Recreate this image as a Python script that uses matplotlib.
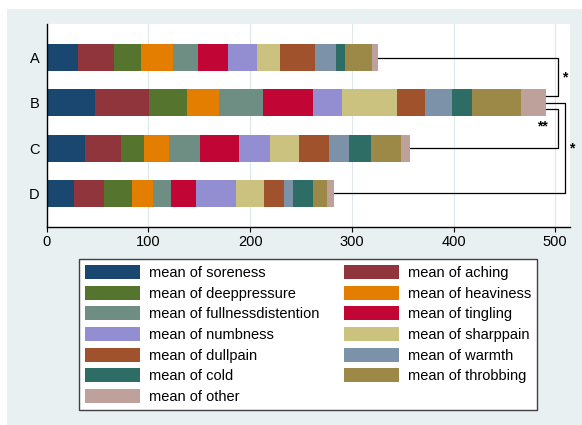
import numpy as np
import matplotlib.pyplot as plt
from matplotlib.patches import Rectangle

plt.rcParams['font.family'] = ['Liberation Sans', 'DejaVu Sans']

groups = ['A', 'B', 'C', 'D']
symptoms = ['soreness', 'aching', 'deeppressure', 'heaviness',
            'fullnessdistention', 'tingling', 'numbness', 'sharppain',
            'dullpain', 'warmth', 'cold', 'throbbing', 'other']

# mean of each symptom per group
means_A = [30.5, 35.7, 26.2, 32.1, 24.0, 29.5, 28.5, 22.6, 35.0, 20.1, 9.1, 26.3, 5.9]
means_B = [47.2, 53.4, 37.1, 32.0, 43.3, 48.6, 28.8, 53.7, 27.9, 26.5, 19.7, 48.2, 24.3]
means_C = [37.7, 35.1, 23.2, 24.3, 30.7, 38.1, 30.5, 28.8, 29.5, 19.6, 21.4, 29.5, 8.5]
means_D = [26.5, 30.1, 27.6, 20.3, 17.7, 24.3, 39.3, 28.2, 19.3, 9.2, 19.1, 13.7, 7.5]

# significance brackets: (group 1, group 2, label)
comparisons = [('A', 'B', '*'), ('B', 'C', '**'), ('B', 'D', '*')]

# Stata s2color palette
colors = ['#1a476f', '#90353b', '#55752f', '#e37e00', '#6e8e84', '#c10534',
          '#938dd2', '#cac27e', '#a0522d', '#7b92a8', '#2d6d66', '#9c8847',
          '#bfa19c']
bg = '#e8f0f2'

data = np.array([means_A, means_B, means_C, means_D])
ypos = np.arange(len(groups))[::-1]  # A on top

fig = plt.figure(figsize=(5.82, 4.25), dpi=100)
fig.patches.append(Rectangle((7 / 582, 0), 1, 1 - 9 / 425,
                             transform=fig.transFigure, facecolor=bg,
                             edgecolor='none', zorder=-10))

ax = fig.add_axes([46.7 / 582, 1 - 227 / 425, (570 - 46.7) / 582, 203 / 425])
ax.set_facecolor('white')

left = np.zeros(len(groups))
handles = []
for j, name in enumerate(symptoms):
    b = ax.barh(ypos, data[:, j], left=left, height=0.6, color=colors[j],
                linewidth=0, label='mean of ' + name)
    handles.append(b)
    left += data[:, j]
totals = left

ax.set_xlim(0, 514.5)
ax.set_ylim(-0.75, 3.75)
ax.set_xticks([0, 100, 200, 300, 400, 500])
ax.set_yticks(ypos)
ax.set_yticklabels(groups)
ax.xaxis.grid(True, color='#dde8eb', linewidth=0.8)
ax.set_axisbelow(True)
for s in ['top', 'right']:
    ax.spines[s].set_visible(False)
for s in ['left', 'bottom']:
    ax.spines[s].set_linewidth(1.0)
ax.tick_params(axis='x', length=3.5, width=0.8, pad=2.5, labelsize=10.5)
ax.tick_params(axis='y', length=0, pad=5, labelsize=10.5)

# brackets
idx = {g: i for i, g in enumerate(groups)}
bracket_x = {('A', 'B'): 503, ('B', 'C'): 503, ('B', 'D'): 509.6}
b_off = {('A', 'B'): 0.15, ('B', 'C'): -0.145, ('B', 'D'): 0.0}
for g1, g2, lab in comparisons:
    i1, i2 = idx[g1], idx[g2]
    xb = bracket_x[(g1, g2)]
    y1 = ypos[i1] + (b_off[(g1, g2)] if g1 == 'B' else 0)
    y2 = ypos[i2] + (b_off[(g1, g2)] if g2 == 'B' else 0)
    ax.plot([totals[i1], xb, xb, totals[i2]], [y1, y1, y2, y2],
            color='black', linewidth=0.9, clip_on=False, zorder=5)
    if lab == '**':
        ax.text(xb - 16, ypos[i1] - 0.53, lab, ha='center', va='center',
                fontsize=10, fontweight='bold')
    else:
        ax.text(xb + 6.5, (y1 + y2) / 2, lab, ha='center', va='center',
                fontsize=10, fontweight='bold', clip_on=False)

# legend in row order (soreness, aching / deeppressure, heaviness ...)
order = list(range(0, len(symptoms), 2)) + list(range(1, len(symptoms), 2))
leg = fig.legend([handles[k] for k in order],
                 ['mean of ' + symptoms[k] for k in order],
                 loc='upper left',
                 bbox_to_anchor=(79 / 582, 1 - 410 / 425, (537 - 79) / 582, 151 / 425),
                 mode='expand', ncol=2, fontsize=10.5, handlelength=3.77,
                 handleheight=1.1, handletextpad=0.62, labelspacing=0.39,
                 borderaxespad=0, borderpad=0.41, columnspacing=1.0,
                 fancybox=False, framealpha=1)
leg.get_frame().set_edgecolor('#404040')
leg.get_frame().set_linewidth(1.0)

fig.savefig('out.png', dpi=100, facecolor='white')
